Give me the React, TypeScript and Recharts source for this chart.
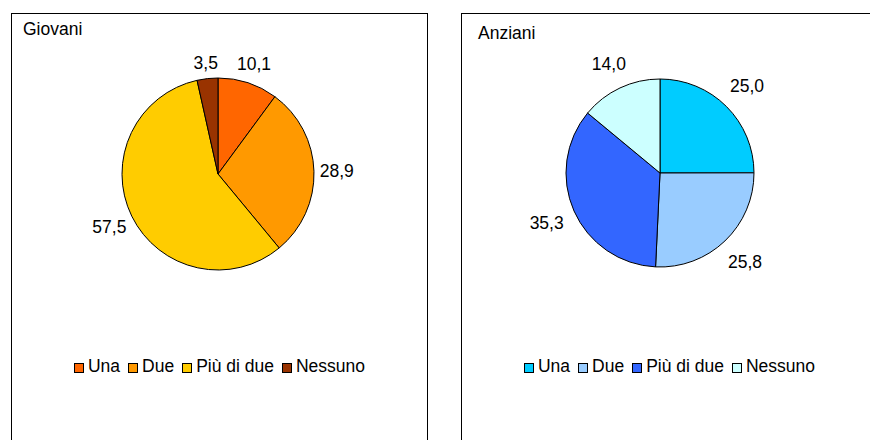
import { PieChart, Pie, Cell, Legend } from "recharts"

const categories = ["Una", "Due", "Più di due", "Nessuno"]
const giovaniValues = [10.1, 28.9, 57.5, 3.5]
const anzianiValues = [25.0, 25.8, 35.3, 14.0]
const giovaniColors = ["#ff6600", "#ff9900", "#ffcc00", "#993300"]
const anzianiColors = ["#00ccff", "#99ccff", "#3366ff", "#ccffff"]

const FONT = "'Liberation Sans', Arial, Helvetica, sans-serif"
const FS = 17.5
const RAD = Math.PI / 180

const fmt = (v: number) => v.toFixed(1).replace(".", ",")

// label sits just outside the slice, pushed out by its own box size
const makeLabel = (gap: number) => (props: any) => {
  const { cx, cy, midAngle, outerRadius, value } = props
  const text = fmt(value)
  const dx = Math.cos(-midAngle * RAD)
  const dy = Math.sin(-midAngle * RAD)
  const hw = (text.length * 0.5 * FS) / 2
  const hh = FS * 0.55
  const r = outerRadius + gap + Math.abs(dx) * hw + Math.abs(dy) * hh
  return (
    <text
      x={cx + r * dx}
      y={cy + r * dy}
      textAnchor="middle"
      dominantBaseline="central"
      fill="#000"
      fontSize={FS}
      fontFamily={FONT}
    >
      {text}
    </text>
  )
}

function LegendRow({ colors }: { colors: string[] }) {
  return (
    <div
      style={{
        display: "flex",
        justifyContent: "center",
        alignItems: "center",
        fontFamily: FONT,
        fontSize: FS,
        color: "#000",
      }}
    >
      {categories.map((c, i) => (
        <div key={c} style={{ display: "flex", alignItems: "center", marginRight: i < 3 ? 8 : 0 }}>
          <span
            style={{
              display: "inline-block",
              width: 8,
              height: 8,
              border: "1px solid #000",
              background: colors[i],
              marginRight: 4,
              marginTop: 3,
            }}
          />
          <span>{c}</span>
        </div>
      ))}
    </div>
  )
}

type PanelProps = {
  title: string
  values: number[]
  colors: string[]
  left: number
  width: number
  titleX: number
  titleY: number
  cx: number
  cy: number
  radius: number
  labelGap: number
}

function Panel(p: PanelProps) {
  const data = categories.map((name, i) => ({ name, value: p.values[i] }))
  return (
    <div
      style={{
        position: "absolute",
        left: p.left,
        top: 13,
        width: p.width,
        height: 440,
        border: "1px solid #000",
        background: "#fff",
      }}
    >
      <div
        style={{
          position: "absolute",
          left: p.titleX,
          top: p.titleY,
          fontFamily: FONT,
          fontSize: FS,
          color: "#000",
        }}
      >
        {p.title}
      </div>
      <PieChart width={p.width} height={426} margin={{ top: 0, right: 0, bottom: 0, left: 0 }}>
        <Pie
          data={data}
          dataKey="value"
          nameKey="name"
          cx={p.cx}
          cy={p.cy}
          outerRadius={p.radius}
          startAngle={90}
          endAngle={-270}
          stroke="#000"
          strokeWidth={1}
          labelLine={false}
          label={makeLabel(p.labelGap)}
          isAnimationActive={false}
        >
          {data.map((d, i) => (
            <Cell key={d.name} fill={p.colors[i]} />
          ))}
        </Pie>
        <Legend
          verticalAlign="bottom"
          wrapperStyle={{ top: 342, bottom: "auto", left: 0, width: 415 }}
          content={() => <LegendRow colors={p.colors} />}
        />
      </PieChart>
    </div>
  )
}

export default function App() {
  return (
    <div
      style={{
        position: "absolute",
        left: 0,
        top: 0,
        width: 870,
        height: 440,
        overflow: "hidden",
        background: "#fff",
      }}
    >
      <Panel
        title="Giovani"
        values={giovaniValues}
        colors={giovaniColors}
        left={11}
        width={415}
        titleX={11}
        titleY={5}
        cx={206}
        cy={160}
        radius={96}
        labelGap={5}
      />
      <Panel
        title="Anziani"
        values={anzianiValues}
        colors={anzianiColors}
        left={461}
        width={420}
        titleX={16}
        titleY={9}
        cx={198}
        cy={159}
        radius={94}
        labelGap={10}
      />
    </div>
  )
}
